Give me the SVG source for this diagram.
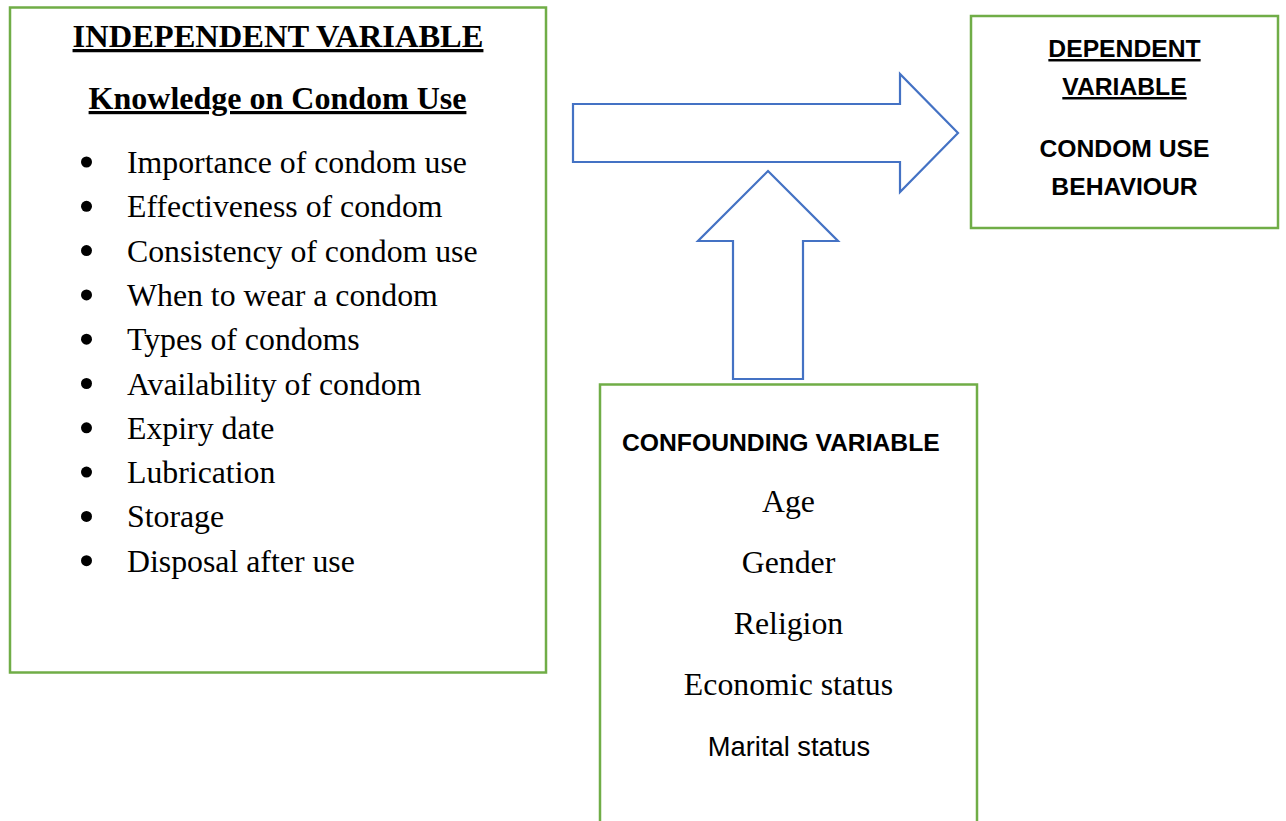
<svg xmlns="http://www.w3.org/2000/svg" width="1286" height="821" viewBox="0 0 1286 821">
<style>
.box{fill:#fff;stroke:#70AD47;stroke-width:2.5}
.arrow{fill:#fff;stroke:#4472C4;stroke-width:2.2;stroke-linejoin:miter}
.serif{font-family:"Liberation Serif","Times New Roman",serif;fill:#000}
.sans{font-family:"Liberation Sans",Arial,sans-serif;fill:#000}
.title{font-weight:bold;text-decoration:underline}
.item{font-size:31.8px}
.hd{font-size:24.7px;font-weight:bold}
.bul{fill:#000}
</style>
<rect width="1286" height="821" fill="#fff"/>
<g id="independent">
<rect class="box" x="10" y="7.5" width="536" height="665"/>
<text class="serif title" x="278" y="47" text-anchor="middle" font-size="32.5">INDEPENDENT VARIABLE</text>
<text class="serif title" x="277.5" y="109" text-anchor="middle" font-size="32">Knowledge on Condom Use</text>
<g class="bul">
<circle cx="86.5" cy="162" r="5.5"/>
<circle cx="86.5" cy="206.3" r="5.5"/>
<circle cx="86.5" cy="250.6" r="5.5"/>
<circle cx="86.5" cy="294.9" r="5.5"/>
<circle cx="86.5" cy="339.2" r="5.5"/>
<circle cx="86.5" cy="383.5" r="5.5"/>
<circle cx="86.5" cy="427.8" r="5.5"/>
<circle cx="86.5" cy="472.1" r="5.5"/>
<circle cx="86.5" cy="516.4" r="5.5"/>
<circle cx="86.5" cy="560.7" r="5.5"/>
</g>
<g class="serif item">
<text x="127" y="173">Importance of condom use</text>
<text x="127" y="217.3">Effectiveness of condom</text>
<text x="127" y="261.6">Consistency of condom use</text>
<text x="127" y="305.9">When to wear a condom</text>
<text x="127" y="350.2">Types of condoms</text>
<text x="127" y="394.5">Availability of condom</text>
<text x="127" y="438.8">Expiry date</text>
<text x="127" y="483.1">Lubrication</text>
<text x="127" y="527.4">Storage</text>
<text x="127" y="571.7">Disposal after use</text>
</g>
</g>
<g id="dependent">
<rect class="box" x="971" y="16" width="307" height="212"/>
<text class="sans hd" x="1124.5" y="57" text-anchor="middle" text-decoration="underline">DEPENDENT</text>
<text class="sans hd" x="1124.5" y="95" text-anchor="middle" text-decoration="underline">VARIABLE</text>
<text class="sans hd" x="1124.5" y="157" text-anchor="middle">CONDOM USE</text>
<text class="sans hd" x="1124.5" y="195" text-anchor="middle">BEHAVIOUR</text>
</g>
<g id="confounding">
<rect class="box" x="600" y="384.5" width="377" height="460"/>
<text class="sans hd" x="622" y="451">CONFOUNDING VARIABLE</text>
<text class="serif item" x="788.5" y="512" text-anchor="middle">Age</text>
<text class="serif item" x="788.5" y="573" text-anchor="middle">Gender</text>
<text class="serif item" x="788.5" y="634" text-anchor="middle">Religion</text>
<text class="serif item" x="788.5" y="695" text-anchor="middle">Economic status</text>
<text class="sans" x="789" y="756" text-anchor="middle" font-size="27.3">Marital status</text>
</g>
<g id="connectors">
<polygon class="arrow" points="573,104 900,104 900,74 958,133 900,192 900,162 573,162"/>
<polygon class="arrow" points="768,171 838,241 803,241 803,379 733,379 733,241 698,241"/>
</g>
</svg>
